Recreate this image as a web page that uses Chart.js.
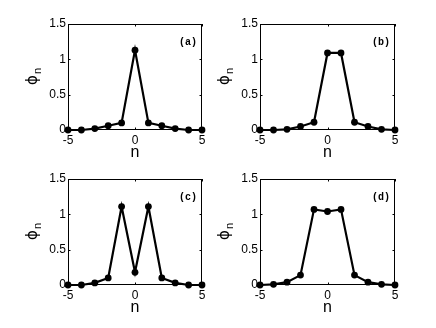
<!DOCTYPE html>
<html>
<head>
<meta charset="utf-8">
<script src="https://cdn.jsdelivr.net/npm/chart.js@4"></script>
<style>
  body { margin: 0; background: #fff; }
  #wrap { position: relative; width: 436px; height: 328px; }
  #wrap canvas { position: absolute; left: 0; top: 0; }
</style>
</head>
<body>
<div id="wrap">
  <canvas id="pa" width="436" height="328"></canvas>
  <canvas id="pb" width="436" height="328"></canvas>
  <canvas id="pc" width="436" height="328"></canvas>
  <canvas id="pd" width="436" height="328"></canvas>
</div>
<script>
const nValues = [-5, -4, -3, -2, -1, 0, 1, 2, 3, 4, 5];
const phiA = [0, 0, 0.02, 0.06, 0.1, 1.13, 0.1, 0.06, 0.02, 0, 0];
const phiB = [0, 0, 0.01, 0.05, 0.11, 1.09, 1.09, 0.11, 0.05, 0.01, 0];
const phiC = [0, 0, 0.03, 0.1, 1.11, 0.18, 1.11, 0.1, 0.03, 0, 0];
const phiD = [0, 0.01, 0.04, 0.14, 1.07, 1.04, 1.07, 0.14, 0.04, 0.01, 0];
const xTicks = [-5, 0, 5];
const yTicks = [0, 0.5, 1, 1.5];
const panelLabels = ["(a)", "(b)", "(c)", "(d)"];

const W = 436, H = 328;
const tickFont = { family: "'Liberation Sans', Arial, sans-serif", size: 12 };

// plot boxes in page pixels
const boxes = [
  { l: 68, t: 24, r: 202, b: 130 },
  { l: 260, t: 24, r: 395, b: 130 },
  { l: 68, t: 179, r: 202, b: 285 },
  { l: 260, t: 179, r: 395, b: 285 }
];

const framePlugin = {
  id: "frame",
  afterDraw(chart, args, opts) {
    const ctx = chart.ctx;
    const a = chart.chartArea;
    const xs = chart.scales.x, ys = chart.scales.y;
    ctx.save();
    ctx.strokeStyle = "#000";
    ctx.lineWidth = 1;
    ctx.strokeRect(a.left + 0.5, a.top + 0.5, a.right - a.left - 1, a.bottom - a.top - 1);
    const len = 2.5;
    ctx.beginPath();
    xTicks.forEach(v => {
      const px = Math.round(xs.getPixelForValue(v)) + 0.5;
      ctx.moveTo(px, a.bottom); ctx.lineTo(px, a.bottom - len);
      ctx.moveTo(px, a.top); ctx.lineTo(px, a.top + len);
    });
    yTicks.forEach(v => {
      const py = Math.round(ys.getPixelForValue(v)) + 0.5;
      ctx.moveTo(a.left, py); ctx.lineTo(a.left + len, py);
      ctx.moveTo(a.right, py); ctx.lineTo(a.right - len, py);
    });
    ctx.stroke();

    ctx.fillStyle = "#000";
    // panel label
    ctx.font = "bold 10px 'Liberation Mono', 'DejaVu Sans Mono', monospace";
    ctx.textAlign = "right";
    ctx.textBaseline = "alphabetic";
    ctx.fillText(opts.label, a.right - 5, a.top + 21);

    // x title
    ctx.font = "16px 'Liberation Sans', Arial, sans-serif";
    ctx.textAlign = "center";
    ctx.fillText("n", (a.left + a.right) / 2, a.bottom + 27);

    // y title, phi with subscript n, rotated
    ctx.translate(a.left - 31, (a.top + a.bottom) / 2 + 8);
    ctx.rotate(-Math.PI / 2);
    ctx.textAlign = "left";
    ctx.font = "15px 'DejaVu Sans', sans-serif";
    ctx.fillText("\u03d5", 0, 0);
    const w = ctx.measureText("\u03d5").width;
    ctx.font = "11px 'Liberation Sans', Arial, sans-serif";
    ctx.fillText("n", w + 1, 4);
    ctx.restore();
  }
};

function makePanel(id, values, box, label) {
  new Chart(document.getElementById(id), {
    type: "line",
    data: {
      datasets: [{
        data: nValues.map((n, i) => ({ x: n, y: values[i] })),
        borderColor: "#000",
        backgroundColor: "#000",
        borderWidth: 2.2,
        pointRadius: 3.4,
        pointBorderWidth: 0,
        tension: 0,
        clip: false
      }]
    },
    options: {
      responsive: false,
      animation: false,
      events: [],
      layout: { padding: { left: 0, top: box.t, right: W - box.r, bottom: 0 } },
      plugins: {
        legend: { display: false },
        tooltip: { enabled: false },
        frame: { label }
      },
      scales: {
        x: {
          type: "linear",
          min: -5, max: 5,
          afterBuildTicks: s => { s.ticks = xTicks.map(v => ({ value: v })); },
          afterFit: s => { s.height = H - box.b; },
          grid: { display: false, drawTicks: false },
          border: { display: false },
          ticks: { color: "#000", font: tickFont, padding: 3, maxRotation: 0, callback: v => String(v) }
        },
        y: {
          type: "linear",
          min: 0, max: 1.5,
          afterBuildTicks: s => { s.ticks = yTicks.map(v => ({ value: v })); },
          afterFit: s => { s.width = box.l; },
          grid: { display: false, drawTicks: false },
          border: { display: false },
          ticks: { color: "#000", font: tickFont, padding: 2, callback: v => String(v) }
        }
      }
    },
    plugins: [framePlugin]
  });
}

makePanel("pa", phiA, boxes[0], panelLabels[0]);
makePanel("pb", phiB, boxes[1], panelLabels[1]);
makePanel("pc", phiC, boxes[2], panelLabels[2]);
makePanel("pd", phiD, boxes[3], panelLabels[3]);
</script>
</body>
</html>
